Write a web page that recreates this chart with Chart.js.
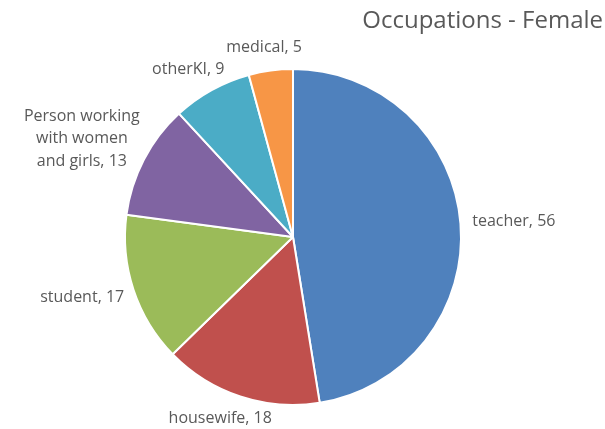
<!DOCTYPE html>
<html>
<head>
<meta charset="utf-8">
<script src="https://cdn.jsdelivr.net/npm/chart.js@4/dist/chart.umd.min.js"></script>
<style>
  html, body { margin: 0; padding: 0; background: #fff; }
  #wrap { width: 605px; height: 429px; }
</style>
</head>
<body>
<div id="wrap"><canvas id="pie"></canvas></div>
<script>
const categories = ["teacher", "housewife", "student", "Person working with women and girls", "otherKI", "medical"];
const counts = [56, 18, 17, 13, 9, 5];
const colors = ["#4F81BD", "#C0504D", "#9BBB59", "#8064A2", "#4BACC6", "#F79646"];
// how each label breaks into lines (value gets appended to the last one)
const labelLines = [["teacher"], ["housewife"], ["student"], ["Person working", "with women", "and girls"], ["otherKI"], ["medical"]];
const chartTitle = "Occupations - Female";

const textColor = "#595959";
const labelFont = "16px 'Open Sans'";

// outside labels + title, roughly like Excel's "best fit"
const outsideLabels = {
  id: "outsideLabels",
  afterDatasetsDraw(chart) {
    const ctx = chart.ctx;
    const meta = chart.getDatasetMeta(0);
    ctx.save();
    ctx.fillStyle = textColor;
    ctx.font = labelFont;
    ctx.textAlign = "center";
    ctx.textBaseline = "middle";
    const lineH = 22.5;
    meta.data.forEach((arc, i) => {
      const lines = labelLines[i].slice();
      lines[lines.length - 1] += ", " + counts[i];
      const w = Math.max(...lines.map(l => ctx.measureText(l).width));
      const h = lines.length * lineH;
      const mid = (arc.startAngle + arc.endAngle) / 2;
      const dx = Math.cos(mid), dy = Math.sin(mid);
      const gap = arc.outerRadius + 12;
      const cx = arc.x + gap * dx + (w / 2) * dx;
      const cy = arc.y + gap * dy + (h / 2) * dy;
      lines.forEach((l, k) => {
        ctx.fillText(l, cx, cy - h / 2 + lineH * (k + 0.5));
      });
    });
    ctx.font = "24px 'Open Sans'";
    ctx.textAlign = "right";
    ctx.fillText(chartTitle, 603, 21);
    ctx.restore();
  }
};

new Chart(document.getElementById("pie"), {
  type: "pie",
  data: {
    labels: categories,
    datasets: [{
      data: counts,
      backgroundColor: colors,
      borderColor: "#ffffff",
      borderWidth: 2
    }]
  },
  options: {
    responsive: true,
    maintainAspectRatio: false,
    animation: false,
    radius: 168,
    layout: { padding: { left: 0, right: 19, top: 45, bottom: 0 } },
    plugins: {
      legend: { display: false },
      tooltip: { enabled: false }
    }
  },
  plugins: [outsideLabels]
});
</script>
</body>
</html>
